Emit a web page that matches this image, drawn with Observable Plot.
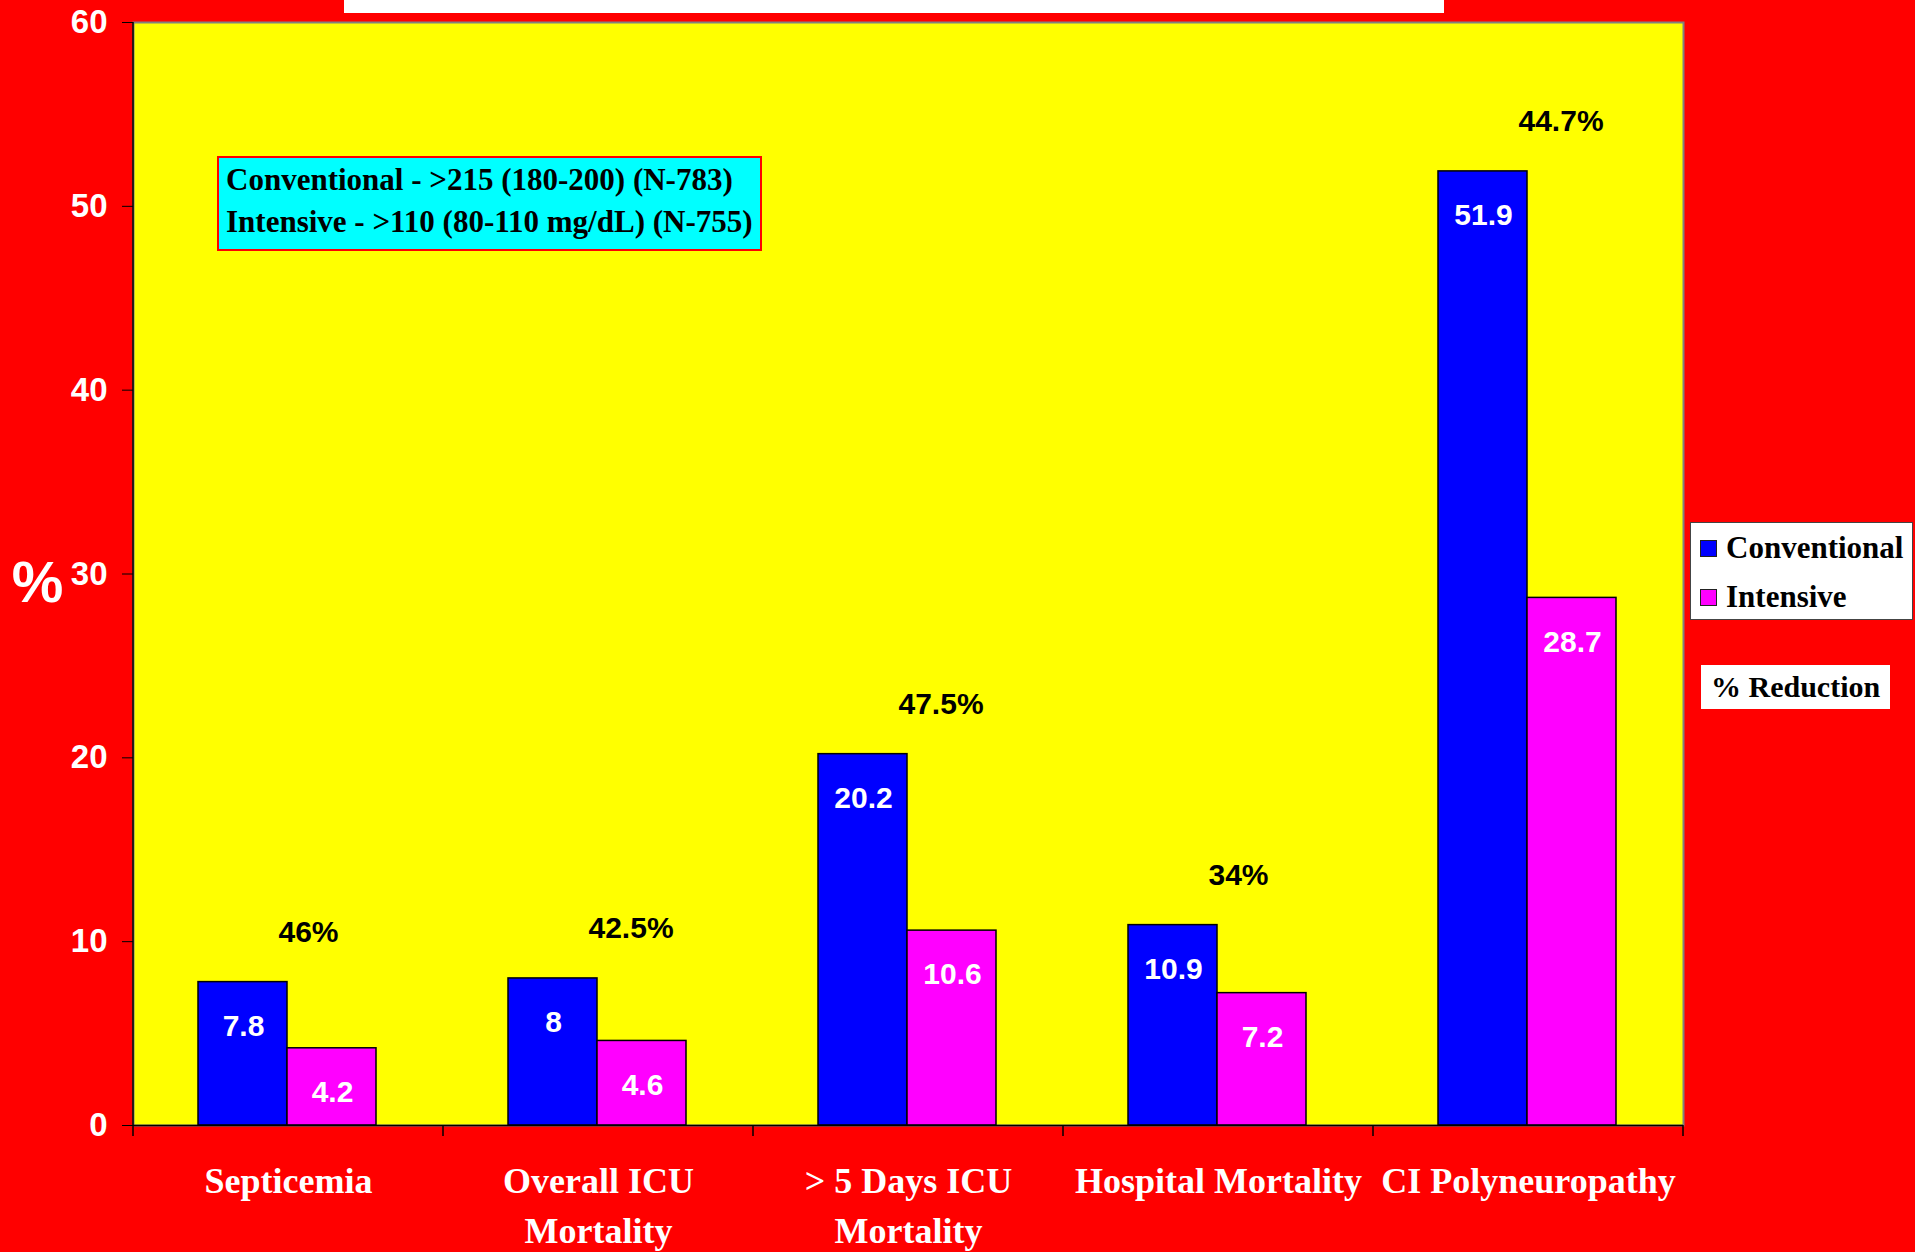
<!DOCTYPE html>
<html>
<head>
<meta charset="utf-8">
<script src="https://cdn.jsdelivr.net/npm/d3@7"></script>
<script src="https://cdn.jsdelivr.net/npm/@observablehq/plot@0.6"></script>
<style>
  html, body { margin: 0; padding: 0; background: #FF0000; }
  #wrap { position: relative; width: 1915px; height: 1252px; overflow: hidden; background: #FF0000; }
  #chart svg { display: block; }
  .serif { font-family: 'Liberation Serif', 'Times New Roman', serif; font-weight: bold; color: #000; }
  #topbar { position: absolute; left: 344px; top: 0; width: 1100px; height: 13px; background: #fff; }
  #note { position: absolute; left: 217px; top: 156px; width: 541px; height: 90px; background: #00FFFF;
          border: 2px solid #FF0000; box-sizing: content-box; font-size: 31px; line-height: 42px; padding-top: 1px; }
  #note div { padding-left: 7px; white-space: nowrap; }
  #legend { position: absolute; left: 1690px; top: 522px; width: 221px; height: 96px; background: #fff;
            border: 1.5px solid #444; font-size: 31px; line-height: 49px; }
  #legend .row { padding-left: 9px; white-space: nowrap; }
  #legend .sw { display: inline-block; width: 15px; height: 15px; border: 1.5px solid #222; margin-right: 9px; vertical-align: 1px; }
  #reduction { position: absolute; left: 1701px; top: 665px; width: 189px; height: 44px; background: #fff;
               font-size: 30px; line-height: 44px; padding-left: 0; box-sizing: border-box; text-indent: 10px; white-space: nowrap; }
</style>
</head>
<body>
<div id="wrap">
  <div id="chart"></div>
  <div id="topbar"></div>
  <div id="note" class="serif"></div>
  <div id="legend" class="serif"></div>
  <div id="reduction" class="serif"></div>
</div>
<script>
// ---- data ----
const categories = ["Septicemia", "Overall ICU\nMortality", "> 5 Days ICU\nMortality", "Hospital Mortality", "CI Polyneuropathy"];
const conventional = [7.8, 8, 20.2, 10.9, 51.9];
const intensive = [4.2, 4.6, 10.6, 7.2, 28.7];
const reductions = ["46%", "42.5%", "47.5%", "34%", "44.7%"];
const yTicks = [0, 10, 20, 30, 40, 50, 60];
const seriesNames = ["Conventional", "Intensive"];
const seriesColors = ["#0000FF", "#FF00FF"];
const noteLines = ["Conventional - >215 (180-200) (N-783)", "Intensive - >110 (80-110 mg/dL) (N-755)"];
const reductionTitle = "% Reduction";
const yLabel = "%";

const data = categories.map((c, i) => ({
  category: c, conventional: conventional[i], intensive: intensive[i], reduction: reductions[i]
}));

const sans = "'Liberation Sans', Arial, Helvetica, sans-serif";
const serif = "'Liberation Serif', 'Times New Roman', serif";

const W = 1915, H = 1252;
const mL = 133, mT = 22, mR = 232, mB = 127;

const plot = Plot.plot({
  width: W, height: H,
  marginLeft: mL, marginTop: mT, marginRight: mR, marginBottom: mB,
  style: { background: "#FF0000", fontFamily: sans, overflow: "visible" },
  x: { domain: categories, paddingInner: 0, paddingOuter: 0, axis: null },
  y: { domain: [0, 60], axis: null },
  marks: [
    Plot.frame({ fill: "#FFFF00", stroke: "#808080", strokeWidth: 2 }),
    Plot.barY(data, { x: "category", y: "conventional", fill: seriesColors[0], stroke: "#000", strokeWidth: 1.5, insetLeft: 65, insetRight: 156 }),
    Plot.barY(data, { x: "category", y: "intensive", fill: seriesColors[1], stroke: "#000", strokeWidth: 1.5, insetLeft: 154, insetRight: 67 }),
    Plot.text(data, { x: "category", y: "conventional", text: d => String(d.conventional), dx: -45, dy: 44, fill: "#fff", fontSize: 30, fontWeight: "bold" }),
    Plot.text(data, { x: "category", y: "intensive", text: d => String(d.intensive), dx: 44, dy: 44, fill: "#fff", fontSize: 30, fontWeight: "bold" }),
    Plot.text(data, { x: "category", y: "conventional", text: "reduction", textAnchor: "start", dx: -10, dy: -50, fill: "#000", fontSize: 30, fontWeight: "bold" }),
    Plot.ruleY([0], { stroke: "#000", strokeWidth: 1.5 }),
    Plot.axisY({ ticks: yTicks, tickSize: 11, tickPadding: 15, stroke: "#000", fill: "#fff", fontSize: 33, fontWeight: "bold", tickFormat: d => String(d), label: null }),
    Plot.axisX({ tickSize: 0, tickPadding: 32, fill: "#fff", fontSize: 36, fontWeight: "bold", fontFamily: serif, lineHeight: 50 / 36, label: null }),
    Plot.text([yLabel], { frameAnchor: "left", textAnchor: "middle", dx: -96, dy: 9, fill: "#fff", fontSize: 58, fontWeight: "bold" })
  ]
});

document.getElementById("chart").appendChild(plot);

// axis line and category boundary ticks, positioned with the plot's own scales
const xs = plot.scale("x"), ys = plot.scale("y");
const svg = d3.select(plot);
const bounds = categories.map(c => xs.apply(c)).concat([xs.apply(categories[categories.length - 1]) + xs.bandwidth]);
const y0 = ys.apply(0), yTop = ys.apply(60);
const g = svg.append("g").attr("stroke", "#000").attr("stroke-width", 1.5);
g.append("line").attr("x1", bounds[0]).attr("x2", bounds[0]).attr("y1", yTop).attr("y2", y0);
bounds.forEach(b => g.append("line").attr("x1", b).attr("x2", b).attr("y1", y0).attr("y2", y0 + 11));

// overlays
const note = document.getElementById("note");
noteLines.forEach(t => { const d = document.createElement("div"); d.textContent = t; note.appendChild(d); });
const legend = document.getElementById("legend");
seriesNames.forEach((n, i) => {
  const row = document.createElement("div"); row.className = "row";
  const sw = document.createElement("span"); sw.className = "sw"; sw.style.background = seriesColors[i];
  row.appendChild(sw); row.appendChild(document.createTextNode(n));
  legend.appendChild(row);
});
document.getElementById("reduction").textContent = reductionTitle;
</script>
</body>
</html>
